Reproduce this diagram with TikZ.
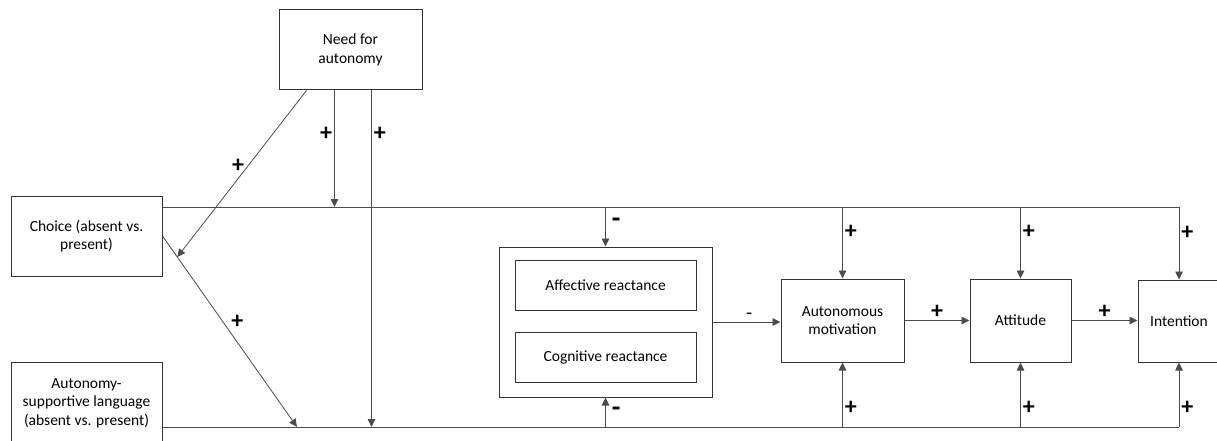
\documentclass[tikz,border=0pt]{standalone}
\usepackage{fontspec}
\setmainfont{Carlito}
\usetikzlibrary{arrows.meta,calc}

\begin{document}
\begin{tikzpicture}[x=1pt,y=-1pt,->,>={Triangle[length=8pt,width=7.5pt]},
    line width=0.8pt,draw=black!70,
    font=\fontsize{15.5}{18.5}\selectfont,
    box/.style={draw=black!80,line width=1pt,align=center,inner sep=0pt},
    sgn/.style={font=\fontsize{24}{24}\selectfont\bfseries,inner sep=2pt},
    dsh/.style={font=\fontsize{28}{28}\selectfont\bfseries,inner sep=2pt,xshift=4},
    plain/.style={-}]
  \useasboundingbox (0,0) rectangle (1217,441);

  \node[box,minimum width=143,minimum height=80] (need) at (350.5,50) {Need for\\autonomy};
  \node[box,minimum width=151,minimum height=80] (choice) at (86.5,236) {Choice (absent vs.\\present)};
  \node[box,minimum width=151,minimum height=82] (lang) at (86.5,403) {Autonomy-\\supportive language\\(absent vs. present)};
  \node[box,minimum width=213,minimum height=150] (react) at (605.5,322) {};
  \node[box,minimum width=181,minimum height=50] (aff) at (605.5,285) {Affective reactance};
  \node[box,minimum width=181,minimum height=50] (cog) at (605.5,357) {Cognitive reactance};
  \node[box,minimum width=123,minimum height=83] (aut) at (842.5,320.5) {Autonomous\\motivation};
  \node[box,minimum width=101,minimum height=83] (att) at (1020.5,320.5) {Attitude};
  \node[box,minimum width=82,minimum height=82] (int) at (1179,321) {Intention};

  \coordinate (top) at (0,207);
  \coordinate (bot) at (0,427);
  \coordinate (cx) at (297,427);
  \coordinate (n1) at ($(need.south west)+(28,0)$);
  \coordinate (n2) at ($(need.south west)+(56,0)$);
  \coordinate (n3) at ($(need.south west)+(93,0)$);

  \draw[plain] (choice.east |- top) -- (int.north |- top);
  \draw[plain] (lang.east |- bot) -- (int.south |- bot);
  \draw (choice.east) -- node[sgn,pos=.45,right,xshift=6]{+} (cx);
  \draw (n1) -- node[sgn,pos=.45,left,xshift=-2]{+} ($(choice.east)!.11!(cx)$);
  \draw (n2) -- node[sgn,pos=.37,left]{+} (n2 |- top);
  \draw (n3) -- node[sgn,pos=.13,right]{+} (n3 |- bot);
  \draw (react.north |- top) -- node[dsh,pos=.4,right]{-} (react.north);
  \draw (react.south |- bot) -- node[dsh,pos=.5,right]{-} (react.south);
  \draw (react.east) -- node[sgn,pos=.54,above,font=\fontsize{20}{20}\selectfont]{-} (react.east -| aut.west);
  \draw (aut.east) -- node[sgn,above]{+} (att.west);
  \draw (att.east) -- node[sgn,above]{+} (att.east -| int.west);
  \foreach \n in {aut,att,int} {
    \draw (\n.north |- top) -- node[sgn,pos=.35,right]{+} (\n.north);
    \draw (\n.south |- bot) -- node[sgn,pos=.29,right]{+} (\n.south);
  }

\end{tikzpicture}
\end{document}
